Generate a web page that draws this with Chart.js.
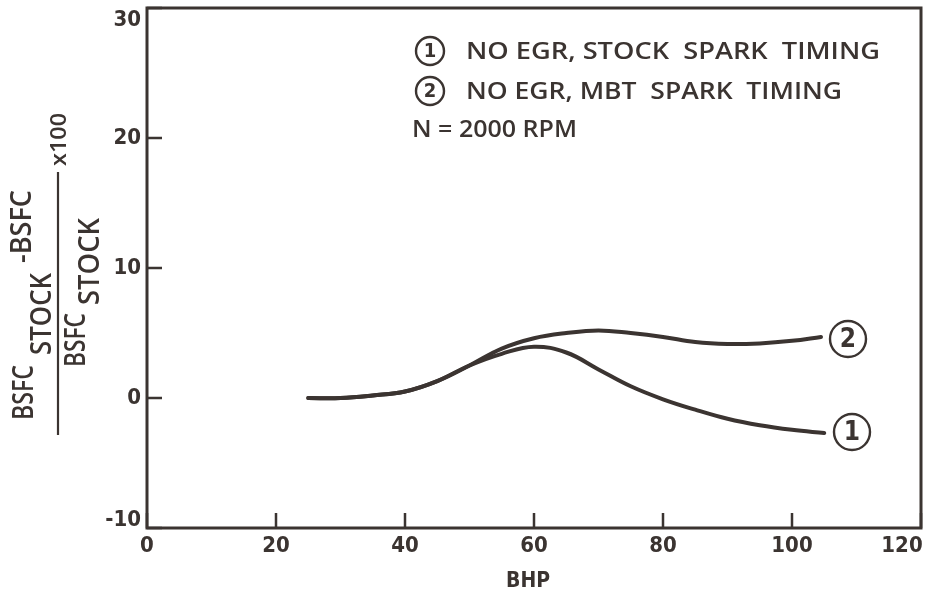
<!DOCTYPE html>
<html>
<head>
<meta charset="utf-8">
<script src="https://cdn.jsdelivr.net/npm/chart.js@4.4.0/dist/chart.umd.min.js"></script>
<style>
  html, body { margin: 0; padding: 0; background: #ffffff; }
  #wrap { width: 931px; height: 597px; }
</style>
</head>
<body>
<div id="wrap"><canvas id="bsfcChart" width="931" height="597"></canvas></div>
<script>
// BHP sample points
const bhp1 = [25, 30, 35, 40, 45, 50, 55, 60, 65, 70, 75, 80, 85, 90, 95, 100, 105];
const stockSpark = [0, 0, 0.2, 0.5, 1.3, 2.5, 3.4, 3.95, 3.5, 2.2, 0.9, -0.1, -0.9, -1.6, -2.1, -2.45, -2.7];
const bhp2 = [25, 30, 35, 40, 45, 50, 55, 60, 65, 70, 75, 80, 85, 90, 95, 100, 104.5];
const mbtSpark = [0, 0, 0.2, 0.5, 1.3, 2.5, 3.8, 4.6, 5.0, 5.2, 5.0, 4.7, 4.3, 4.15, 4.2, 4.4, 4.7];

const xTicks = [0, 20, 40, 60, 80, 100, 120];
const yTicks = [-10, 0, 10, 20, 30];
const legendLines = ['NO EGR, STOCK  SPARK  TIMING', 'NO EGR, MBT  SPARK  TIMING'];
const noteText = 'N = 2000 RPM';

const INK = '#3b3431';
const NUM_FONT = 'bold 22px "DejaVu Sans Condensed", "Liberation Sans Narrow", sans-serif';
const TXT_FONT = '600 24px "Open Sans", "DejaVu Sans", sans-serif';
const TITLE_FONT = '600 28px "Open Sans", "DejaVu Sans", sans-serif';

function toPoints(xs, ys) {
    return xs.map((x, i) => ({ x: x, y: ys[i] }));
}

// draw text squeezed/stretched to a given width
function fitText(ctx, text, x, y, w) {
    const m = ctx.measureText(text).width;
    ctx.save();
    ctx.translate(x, y);
    ctx.scale(w / m, 1);
    ctx.fillText(text, 0, 0);
    ctx.restore();
}

function circled(ctx, label, cx, cy, r) {
    ctx.save();
    ctx.lineWidth = 2.4;
    ctx.strokeStyle = INK;
    ctx.beginPath();
    ctx.arc(cx, cy, r, 0, Math.PI * 2);
    ctx.stroke();
    ctx.font = 'bold ' + Math.round(r * 1.45) + 'px "DejaVu Sans Condensed", sans-serif';
    ctx.textAlign = 'center';
    ctx.textBaseline = 'middle';
    ctx.fillText(label, cx, cy + 1);
    ctx.restore();
}

const framePlugin = {
    id: 'frame',
    afterDraw(chart) {
        const ctx = chart.ctx;
        const a = chart.chartArea;
        const xs = chart.scales.x, ys = chart.scales.y;
        ctx.save();
        ctx.fillStyle = INK;
        ctx.strokeStyle = INK;

        // box
        ctx.lineWidth = 3;
        ctx.strokeRect(a.left, a.top, a.right - a.left, a.bottom - a.top);

        // inward ticks
        ctx.lineWidth = 2.5;
        ctx.beginPath();
        yTicks.forEach(v => {
            const py = ys.getPixelForValue(v);
            ctx.moveTo(a.left, py); ctx.lineTo(a.left + 15, py);
        });
        xTicks.forEach(v => {
            const px = xs.getPixelForValue(v);
            ctx.moveTo(px, a.bottom); ctx.lineTo(px, a.bottom - 15);
        });
        ctx.stroke();

        // tick labels
        ctx.font = NUM_FONT;
        ctx.textAlign = 'right';
        ctx.textBaseline = 'middle';
        yTicks.forEach(v => {
            let py = ys.getPixelForValue(v);
            py = Math.min(Math.max(py, a.top + 12), a.bottom - 8);
            ctx.fillText(String(v), a.left - 6, py);
        });
        ctx.textAlign = 'center';
        xTicks.forEach(v => {
            let px = xs.getPixelForValue(v);
            px = Math.min(px, a.right - 19);
            ctx.fillText(String(v), px, a.bottom + 18);
        });

        // x title
        ctx.font = 'bold 22px "DejaVu Sans Condensed", sans-serif';
        ctx.textAlign = 'left';
        fitText(ctx, 'BHP', 506, 581, 44);

        // y title: (BSFC_STOCK - BSFC) / BSFC_STOCK x100, rotated
        ctx.save();
        ctx.rotate(-Math.PI / 2);
        ctx.textAlign = 'left';
        ctx.textBaseline = 'middle';
        ctx.font = TITLE_FONT;
        fitText(ctx, 'BSFC', -420, 25, 55);
        fitText(ctx, 'STOCK', -355, 43, 82);
        fitText(ctx, '-BSFC', -263, 23, 73);
        fitText(ctx, 'BSFC', -367, 77, 54);
        fitText(ctx, 'STOCK', -305, 91, 87);
        ctx.font = '600 21px "Open Sans", sans-serif';
        fitText(ctx, 'x100', -166, 60, 53);
        ctx.restore();
        ctx.lineWidth = 2.2;
        ctx.beginPath();
        ctx.moveTo(58, 435); ctx.lineTo(58, 172);
        ctx.stroke();

        // legend block
        ctx.font = TXT_FONT;
        ctx.textAlign = 'left';
        ctx.textBaseline = 'middle';
        circled(ctx, '1', 430, 51, 14);
        fitText(ctx, legendLines[0], 466, 52, 414);
        circled(ctx, '2', 430, 91, 14);
        fitText(ctx, legendLines[1], 466, 92, 376);
        fitText(ctx, noteText, 412, 130, 165);

        // curve end labels
        circled(ctx, '2', 848, 339, 18);
        circled(ctx, '1', 852, 432, 18);

        ctx.restore();
    }
};

const ctx = document.getElementById('bsfcChart').getContext('2d');
new Chart(ctx, {
    type: 'line',
    data: {
        datasets: [
            {
                label: 'NO EGR, STOCK SPARK TIMING',
                data: toPoints(bhp1, stockSpark),
                borderColor: INK,
                borderWidth: 4,
                pointRadius: 0,
                tension: 0.4,
                fill: false
            },
            {
                label: 'NO EGR, MBT SPARK TIMING',
                data: toPoints(bhp2, mbtSpark),
                borderColor: INK,
                borderWidth: 4,
                pointRadius: 0,
                tension: 0.4,
                fill: false
            }
        ]
    },
    options: {
        responsive: false,
        animation: false,
        layout: { padding: { left: 147, right: 10, top: 8, bottom: 69 } },
        scales: {
            x: { type: 'linear', min: 0, max: 120, display: false },
            y: { type: 'linear', min: -10, max: 30, display: false }
        },
        plugins: {
            legend: { display: false },
            tooltip: { enabled: false }
        },
        elements: { line: { borderCapStyle: 'round' } }
    },
    plugins: [framePlugin]
});
</script>
</body>
</html>
